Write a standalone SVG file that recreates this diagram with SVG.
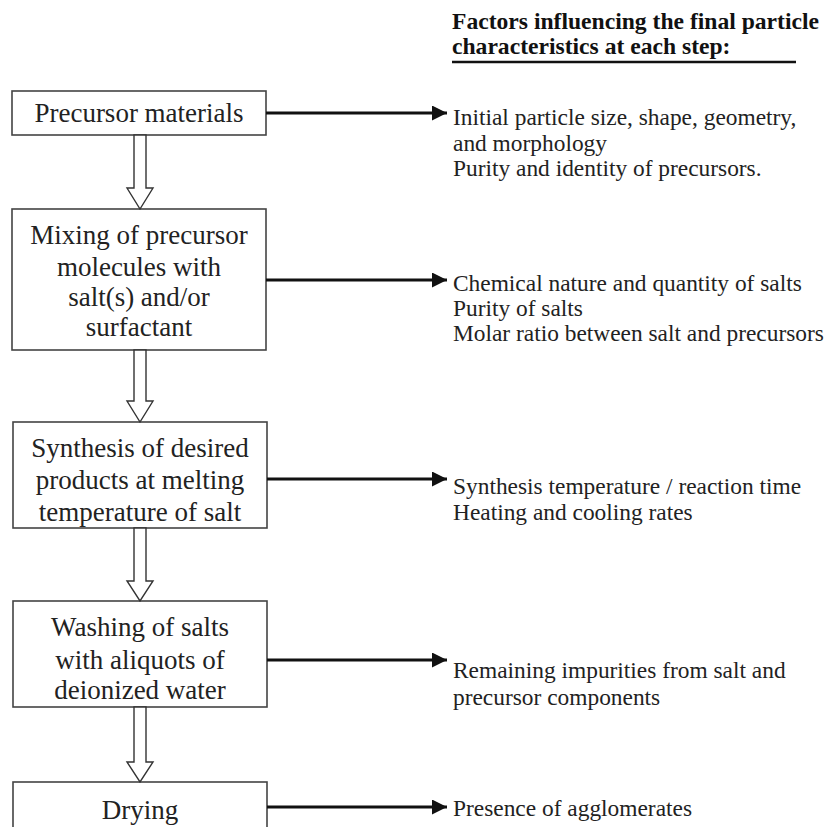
<svg xmlns="http://www.w3.org/2000/svg" width="827" height="827" viewBox="0 0 827 827">
<defs>
<style>
.box{fill:#fff;stroke:#444;stroke-width:1.6}
.bt{font-family:"Liberation Serif","Times New Roman",serif;font-size:27px;fill:#222;text-anchor:middle}
.rt{font-family:"Liberation Serif","Times New Roman",serif;font-size:23.4px;fill:#222}
.tt{font-family:"Liberation Serif","Times New Roman",serif;font-size:23.6px;font-weight:bold;fill:#111}
.ar{stroke:#111;stroke-width:3;fill:none}
.ha{fill:#fff;stroke:#333;stroke-width:1.4}
</style>
<marker id="ah" viewBox="0 0 10 10" refX="10" refY="5" markerWidth="6" markerHeight="5" markerUnits="strokeWidth" orient="auto"><path d="M0,0 L10,5 L0,10 Z" fill="#111"/></marker>
</defs>
<rect width="827" height="827" fill="#fff"/>
<g id="title">
<text class="tt" x="452" y="29">Factors influencing the final particle</text>
<text class="tt" x="452" y="54">characteristics at each step:</text>
<line x1="452" y1="62" x2="796" y2="62" stroke="#111" stroke-width="2.5"/>
</g>
<g id="n1"><rect class="box" x="12" y="91" width="254" height="44"/><text class="bt" x="139" y="122">Precursor materials</text></g>
<g id="n2"><rect class="box" x="12" y="209" width="254" height="141"/>
<text class="bt" x="139" y="244">Mixing of precursor</text><text class="bt" x="139" y="276">molecules with</text><text class="bt" x="139" y="306">salt(s) and/or</text><text class="bt" x="139" y="336">surfactant</text></g>
<g id="n3"><rect class="box" x="13" y="422" width="254" height="106"/>
<text class="bt" x="140" y="457">Synthesis of desired</text><text class="bt" x="140" y="489">products at melting</text><text class="bt" x="140" y="521">temperature of salt</text></g>
<g id="n4"><rect class="box" x="13" y="601" width="254" height="106"/>
<text class="bt" x="140" y="636">Washing of salts</text><text class="bt" x="140" y="669">with aliquots of</text><text class="bt" x="140" y="699">deionized water</text></g>
<g id="n5"><rect class="box" x="13" y="782" width="254" height="60"/><text class="bt" x="140" y="819">Drying</text></g>
<g id="f1"><text class="rt" x="453" y="125">Initial particle size, shape, geometry,</text><text class="rt" x="453" y="151">and morphology</text><text class="rt" x="453" y="176">Purity and identity of precursors.</text></g>
<g id="f2"><text class="rt" x="453" y="291">Chemical nature and quantity of salts</text><text class="rt" x="453" y="316">Purity of salts</text><text class="rt" x="453" y="341">Molar ratio between salt and precursors</text></g>
<g id="f3"><text class="rt" x="453" y="494">Synthesis temperature / reaction time</text><text class="rt" x="453" y="520">Heating and cooling rates</text></g>
<g id="f4"><text class="rt" x="453" y="678">Remaining impurities from salt and</text><text class="rt" x="453" y="705">precursor components</text></g>
<g id="f5"><text class="rt" x="453" y="816">Presence of agglomerates</text></g>
<g id="connectors">
<line class="ar" x1="266" y1="113" x2="447" y2="113" marker-end="url(#ah)"/>
<line class="ar" x1="266" y1="280" x2="447" y2="280" marker-end="url(#ah)"/>
<line class="ar" x1="267" y1="479" x2="447" y2="479" marker-end="url(#ah)"/>
<line class="ar" x1="267" y1="660" x2="447" y2="660" marker-end="url(#ah)"/>
<line class="ar" x1="267" y1="807" x2="447" y2="807" marker-end="url(#ah)"/>
<path class="ha" d="M134,135 V188 H127 L140,209 L153,188 H146 V135 Z"/>
<path class="ha" d="M134,350 V401 H127 L140,422 L153,401 H146 V350 Z"/>
<path class="ha" d="M134,528 V581 H127 L140,601 L153,581 H146 V528 Z"/>
<path class="ha" d="M134,707 V762 H127 L140,782 L153,762 H146 V707 Z"/>
</g>
</svg>
